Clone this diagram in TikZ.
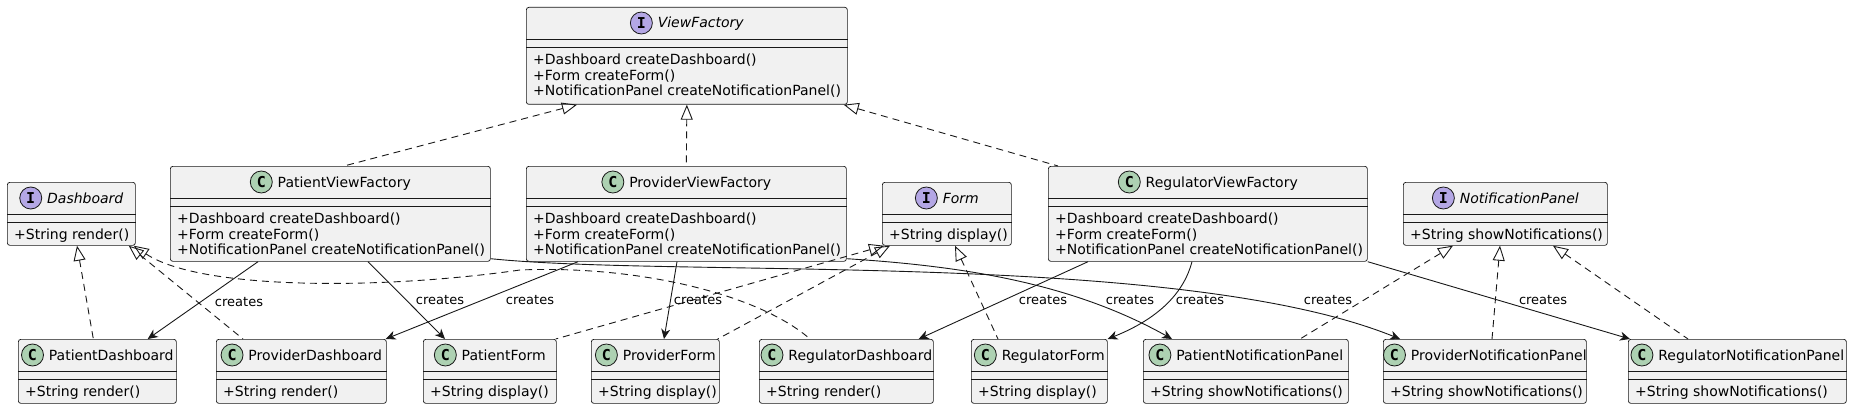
\documentclass[tikz,border=0pt]{standalone}
\usepackage{fontspec}
\setmainfont{DejaVu Sans}
\setmonofont{DejaVu Sans Mono}
\usetikzlibrary{arrows.meta}
\definecolor{boxfill}{HTML}{F1F1F1}
\definecolor{boxline}{HTML}{181818}
\definecolor{classbadge}{HTML}{ADD1B2}
\definecolor{ifacebadge}{HTML}{B4A7E5}
\tikzset{umlclass/.style={rectangle, draw=boxline, fill=boxfill, line width=0.7pt, rounded corners=2.5pt, inner sep=0pt}, }
\tikzset{umlsep/.style={draw=boxline, line width=0.7pt}, }
\tikzset{umltitle/.style={inner sep=0pt, font=\fontsize{14}{16}\selectfont}, }
\tikzset{umlbody/.style={anchor=north west, inner sep=0pt, align=left, font=\fontsize{14}{15.5}\selectfont}, }
\tikzset{badgecirc/.style={circle, draw=boxline, line width=0.8pt, inner sep=0pt, minimum size=22pt, font=\fontsize{15}{15}\selectfont\ttfamily\bfseries}, }
\tikzset{realize/.style={draw=boxline, line width=0.9pt, dash pattern=on 7pt off 5pt, {Triangle[open,length=15pt,width=12pt]}-}}
\tikzset{creates/.style={draw=boxline, line width=0.9pt, -{Stealth[length=10pt,width=9pt,inset=3pt]}}}
\tikzset{lbl/.style={inner sep=0pt, font=\fontsize{13}{13}\selectfont}, }
\newcommand\cbadge{\tikz[baseline={([yshift=-5pt]cb.center)}]\node[badgecirc, fill=classbadge] (cb) {C};\hspace{5pt}}
\newcommand\ibadge{\tikz[baseline={([yshift=-5pt]ib.center)}]\node[badgecirc, fill=ifacebadge] (ib) {I};\hspace{5pt}}
% name, x, y, width, height, badge, title, methods
\newcommand\umlbox[8]{%
  \node[umlclass, minimum width=#4pt, minimum height=#5pt, anchor=north west] (#1) at (#2,-#3) {};
  \draw[umlsep] ([yshift=-32pt]#1.north west) -- ([yshift=-32pt]#1.north east);
  \draw[umlsep] ([yshift=-40pt]#1.north west) -- ([yshift=-40pt]#1.north east);
  \node[umltitle] (#1-t) at ([yshift=-16pt]#1.north) {#6#7};
  \node[umlbody] (#1-m) at ([xshift=7pt,yshift=-47pt]#1.north west) {#8};
}

\begin{document}
\begin{tikzpicture}[x=1pt, y=1pt]
\useasboundingbox (0,0) rectangle (1852,-409);
%
\umlbox{vf}{526}{7}{321}{97}{\ibadge}{\itshape ViewFactory}{+Dashboard createDashboard()\\+Form createForm()\\+NotificationPanel createNotificationPanel()}
\umlbox{pvf}{170}{166}{320}{95}{\cbadge}{PatientViewFactory}{+Dashboard createDashboard()\\+Form createForm()\\+NotificationPanel createNotificationPanel()}
\umlbox{prvf}{526}{166}{320}{95}{\cbadge}{ProviderViewFactory}{+Dashboard createDashboard()\\+Form createForm()\\+NotificationPanel createNotificationPanel()}
\umlbox{rvf}{1048}{166}{319}{95}{\cbadge}{RegulatorViewFactory}{+Dashboard createDashboard()\\+Form createForm()\\+NotificationPanel createNotificationPanel()}
\umlbox{dash}{7}{182}{128}{63}{\ibadge}{\itshape Dashboard}{+String render()}
\umlbox{form}{882}{182}{129}{63}{\ibadge}{\itshape Form}{+String display()}
\umlbox{np}{1403}{182}{204}{63}{\ibadge}{\itshape NotificationPanel}{+String showNotifications()}
%
\umlbox{pd}{18}{339}{158}{64}{\cbadge}{PatientDashboard}{+String render()}
\umlbox{prd}{216}{339}{170}{64}{\cbadge}{ProviderDashboard}{+String render()}
\umlbox{pf}{423}{339}{133}{64}{\cbadge}{PatientForm}{+String display()}
\umlbox{prf}{591}{339}{128}{64}{\cbadge}{ProviderForm}{+String display()}
\umlbox{rd}{759}{339}{174}{64}{\cbadge}{RegulatorDashboard}{+String render()}
\umlbox{rf}{971}{339}{136}{64}{\cbadge}{RegulatorForm}{+String display()}
\umlbox{pnp}{1143}{339}{205}{64}{\cbadge}{PatientNotificationPanel}{+String showNotifications()}
\umlbox{prnp}{1383}{339}{203}{64}{\cbadge}{ProviderNotificationPanel}{+String showNotifications()}
\umlbox{rnp}{1628}{339}{218}{64}{\cbadge}{RegulatorNotificationPanel}{+String showNotifications()}
%
\foreach \a/\da/\b/\db in {vf.south west/51/pvf.north west/174, vf.south/0/prvf.north/0, vf.south east/-4/rvf.north west/10, dash.south west/70/pd.north/-4, dash.south east/-7/prd.north west/27, form.south west/2/pf.north east/-1, form.south west/8/prf.north east/-2, form.south west/73/rf.north west/27, np.south west/50/pnp.north west/157, np.south west/97/prnp.north west/109, np.south west/150/rnp.north west/60}
  \draw[realize] ([xshift=\da pt]\a) -- ([xshift=\db pt]\b);
\draw[realize] ([xshift=-2pt]dash.south east) .. controls (200,-290) and (380,-290) .. (520,-270) .. controls (640,-265) and (760,-295) .. ([xshift=51pt]rd.north west);
%
\foreach \a/\da/\b/\db in {pvf.south west/88/pd.north east/-29, pvf.south west/198/pf.north west/22, prvf.south west/52/prd.north east/-1, prvf.south west/151/prf.north west/73, rvf.south west/40/rd.north east/-15, rvf.south east/0/rnp.north west/2}
  \draw[creates] ([xshift=\da pt]\a) -- ([xshift=\db pt]\b);
\draw[creates] ([xshift=144pt]rvf.south west) .. controls (1184,-292) and (1160,-318) .. (rf.north east);
\draw[creates] ([yshift=3pt]prvf.south east) .. controls (960,-266) and (1070,-282) .. ([xshift=29pt]pnp.north west);
\draw[creates] ([yshift=3pt]pvf.south east) .. controls (680,-278) and (1180,-250) .. ([xshift=17pt]prnp.north west);
%
\foreach \lx/\ly [count=\i] in {239/302, 440/300, 530/300, 698/300, 1043/300, 1130/300, 1200/300, 1328/300, 1543/300}
  \node[lbl] (lab\i) at (\lx,-\ly) {creates};
\end{tikzpicture}
\end{document}
